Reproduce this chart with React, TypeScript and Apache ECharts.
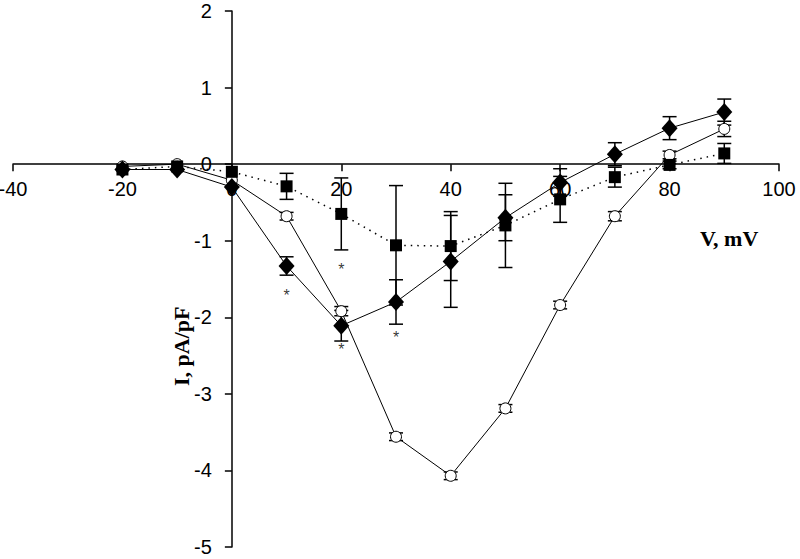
import React, { useEffect, useRef } from "react";
import * as echarts from "echarts";

const voltages = [-20, -10, 0, 10, 20, 30, 40, 50, 60, 70, 80, 90];
const diamondMean = [-0.07, -0.07, -0.3, -1.33, -2.11, -1.8, -1.27, -0.7, -0.24, 0.13, 0.47, 0.68];
const diamondErr = [0, 0, 0, 0.12, 0.2, 0.29, 0.6, 0.3, 0.18, 0.15, 0.15, 0.17];
const circleMean = [-0.03, 0.0, -0.21, -0.68, -1.92, -3.56, -4.07, -3.19, -1.84, -0.68, 0.12, 0.46];
const circleErr = [0, 0, 0, 0.05, 0.06, 0.05, 0.05, 0.05, 0.05, 0.06, 0.05, 0.1];
const squareMean = [-0.07, -0.03, -0.1, -0.29, -0.65, -1.06, -1.07, -0.8, -0.46, -0.17, -0.01, 0.14];
const squareErr = [0, 0, 0, 0.17, 0.47, 0.78, 0.45, 0.55, 0.3, 0.13, 0.05, 0.13];
const starMarks = [
  [10, -1.72],
  [20, -1.37],
  [20, -2.42],
  [30, -2.26],
];
const xTicks = { min: -40, max: 100, interval: 20 };
const yTicks = { min: -5, max: 2, interval: 1 };

const pts = (ys: number[]) => voltages.map((v, i) => [v, ys[i]]);
const errs = (ys: number[], es: number[]) =>
  voltages.map((v, i) => [v, ys[i], es[i]]).filter((d) => d[2] > 0);

function errorSeries(data: number[][]) {
  return {
    type: "custom",
    data,
    encode: { x: 0, y: 1 },
    z: 1,
    silent: true,
    renderItem: (params: any, api: any) => {
      const x = api.value(0);
      const y = api.value(1);
      const e = api.value(2);
      const hi = api.coord([x, y + e]);
      const lo = api.coord([x, y - e]);
      const hw = 7;
      const st = { stroke: "#000", lineWidth: 1.5 };
      return {
        type: "group",
        children: [
          { type: "line", shape: { x1: hi[0], y1: hi[1], x2: lo[0], y2: lo[1] }, style: st },
          { type: "line", shape: { x1: hi[0] - hw, y1: hi[1], x2: hi[0] + hw, y2: hi[1] }, style: st },
          { type: "line", shape: { x1: lo[0] - hw, y1: lo[1], x2: lo[0] + hw, y2: lo[1] }, style: st },
        ],
      };
    },
  };
}

const GRID = { left: 13, right: 21, top: 11, bottom: 12 };
const W = 800;
const H = 559;

export default function App() {
  const ref = useRef<HTMLDivElement>(null);
  useEffect(() => {
    if (!ref.current) return;
    const chart = echarts.init(ref.current, undefined, { renderer: "svg" });
    const gw = W - GRID.left - GRID.right;
    const gh = H - GRID.top - GRID.bottom;
    const zeroX = GRID.left + ((0 - xTicks.min) / (xTicks.max - xTicks.min)) * gw;
    const zeroY = GRID.top + ((yTicks.max - 0) / (yTicks.max - yTicks.min)) * gh;
    const xOffset = -(GRID.top + gh - zeroY);
    const yOffset = -(zeroX - GRID.left);
    const axisFont = { fontFamily: "Liberation Sans", fontSize: 20, color: "#000" };
    chart.setOption({
      animation: false,
      backgroundColor: "#fff",
      grid: { ...GRID, containLabel: false, outerBoundsMode: "none" },
      xAxis: {
        type: "value",
        ...xTicks,
        position: "bottom",
        offset: xOffset,
        axisLine: { onZero: false, lineStyle: { color: "#000", width: 1.5 } },
        axisTick: { show: true, length: 7, lineStyle: { color: "#000", width: 1.5 } },
        axisLabel: { ...axisFont, margin: 15 },
        splitLine: { show: false },
      },
      yAxis: {
        type: "value",
        ...yTicks,
        position: "left",
        offset: yOffset,
        axisLine: { onZero: false, lineStyle: { color: "#000", width: 1.5 } },
        axisTick: { show: true, length: 7, lineStyle: { color: "#000", width: 1.5 } },
        axisLabel: { ...axisFont, margin: 20 },
        splitLine: { show: false },
      },
      graphic: [
        {
          type: "text",
          left: 700,
          top: 227,
          style: { text: "V, mV", font: "bold 22px 'Liberation Serif'", fill: "#000" },
        },
        {
          type: "text",
          x: 170,
          y: 386,
          rotation: Math.PI / 2,
          style: { text: "I, pA/pF", font: "bold 22px 'Liberation Serif'", fill: "#000" },
        },
      ],
      series: [
        errorSeries(errs(squareMean, squareErr)),
        errorSeries(errs(diamondMean, diamondErr)),
        errorSeries(errs(circleMean, circleErr)),
        {
          type: "line",
          data: pts(circleMean),
          symbol: "circle",
          symbolSize: 11,
          z: 3,
          lineStyle: { color: "#000", width: 1 },
          itemStyle: { color: "#fff", borderColor: "#000", borderWidth: 1 },
        },
        {
          type: "line",
          data: pts(squareMean),
          symbol: "rect",
          symbolSize: 12,
          z: 4,
          lineStyle: { color: "#000", width: 1.5, type: [1.5, 5] },
          itemStyle: { color: "#000" },
        },
        {
          type: "line",
          data: pts(diamondMean),
          symbol: "diamond",
          symbolSize: [16, 18],
          z: 5,
          lineStyle: { color: "#000", width: 1 },
          itemStyle: { color: "#000" },
        },
        {
          type: "scatter",
          data: starMarks,
          symbolSize: 1,
          z: 6,
          itemStyle: { color: "transparent" },
          label: {
            show: true,
            position: "inside",
            formatter: "*",
            fontFamily: "Liberation Sans",
            fontSize: 16,
            color: "#000",
          },
        },
      ],
    });
    return () => chart.dispose();
  }, []);
  return <div ref={ref} style={{ width: W, height: H, position: "absolute", left: 0, top: 0 }} />;
}
